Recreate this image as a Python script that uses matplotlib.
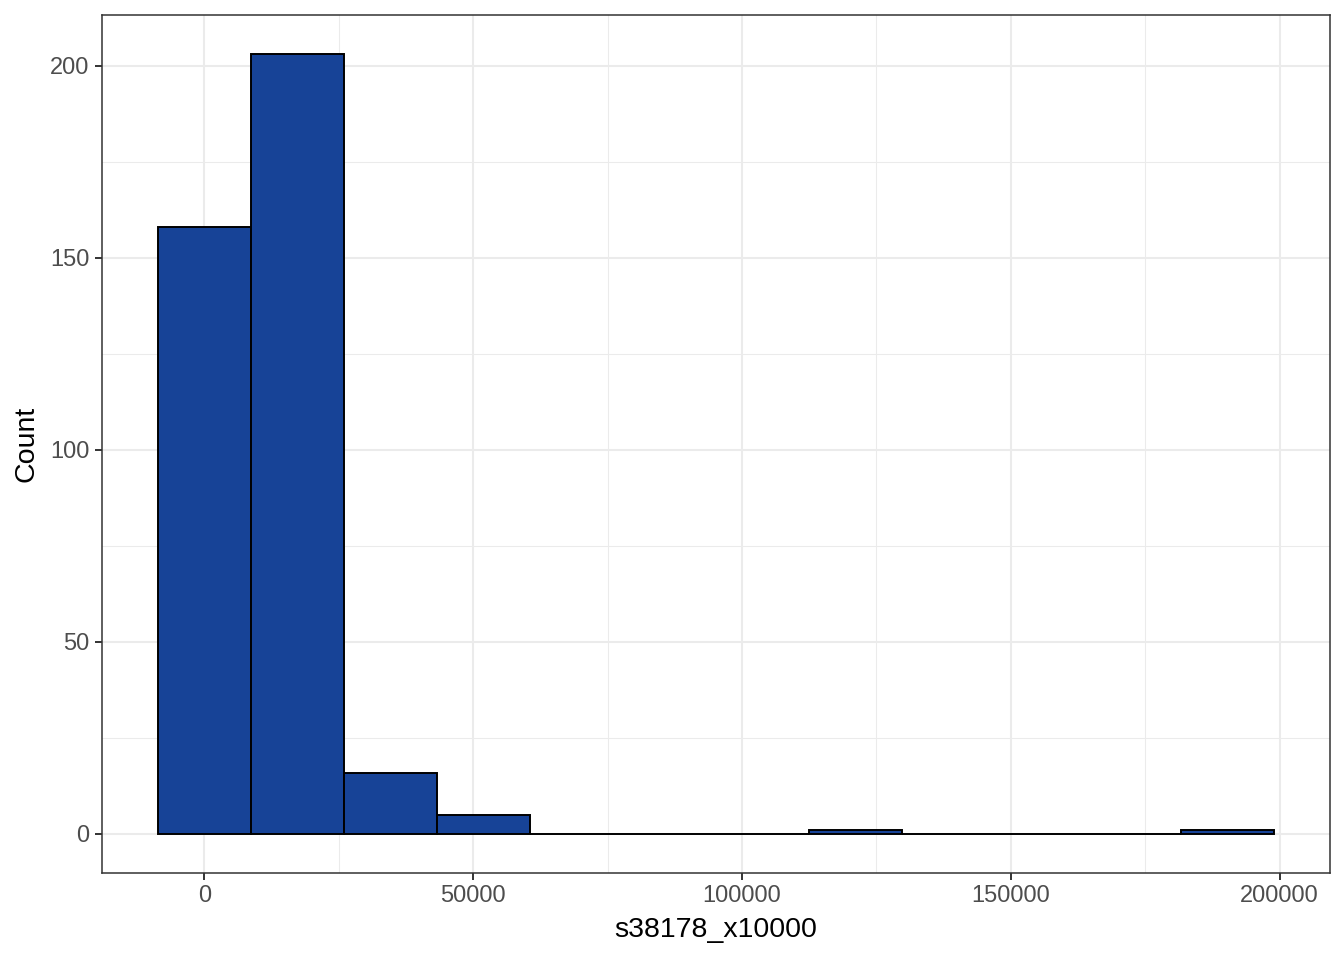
import numpy as np
import matplotlib
matplotlib.use("Agg")
import matplotlib.pyplot as plt

# istogramma s38178_x10000 (12 classi, la prima centrata sul minimo)
conteggi = [158, 203, 16, 5, 0, 0, 0, 1, 0, 0, 0, 1]
valore_min = 0
valore_max = 190340
n_classi = 12

x_ticks = [0, 50000, 100000, 150000, 200000]
y_ticks = [0, 50, 100, 150, 200]

ampiezza = (valore_max - valore_min) / (n_classi - 1)
bordi = valore_min - ampiezza / 2 + ampiezza * np.arange(n_classi + 1)

plt.rcParams['font.family'] = ['Liberation Sans', 'DejaVu Sans']

fig = plt.figure(figsize=(13.44, 9.6), dpi=100)
ax = fig.add_axes([102 / 1344, 1 - 873 / 960, (1330 - 102) / 1344, (873 - 15) / 960])

ax.bar(bordi[:-1], conteggi, width=ampiezza, align='edge',
       color='#174397', edgecolor='black', linewidth=1.4, zorder=3)

# limiti con espansione del 5% come ggplot
dx = (bordi[-1] - bordi[0]) * 0.05
ax.set_xlim(bordi[0] - dx, bordi[-1] + dx)
dy = max(conteggi) * 0.05
ax.set_ylim(-dy, max(conteggi) + dy)

ax.set_xticks(x_ticks)
ax.set_yticks(y_ticks)
ax.set_xticks([(a + b) / 2 for a, b in zip(x_ticks[:-1], x_ticks[1:])], minor=True)
ax.set_yticks([(a + b) / 2 for a, b in zip(y_ticks[:-1], y_ticks[1:])], minor=True)
ax.set_xticklabels([str(v) for v in x_ticks])
ax.set_yticklabels([str(v) for v in y_ticks])

ax.grid(which='major', color='#EBEBEB', linewidth=1.5, zorder=0)
ax.grid(which='minor', color='#EBEBEB', linewidth=0.75, zorder=0)
ax.set_axisbelow(True)

for s in ax.spines.values():
    s.set_color('#333333')
    s.set_linewidth(1.1)

ax.tick_params(which='major', length=5, width=1.4, color='#333333',
               labelsize=17, labelcolor='#4D4D4D', pad=4)
ax.tick_params(which='minor', length=0)

ax.set_xlabel('s38178_x10000', fontsize=20.5, color='black', labelpad=7)
ax.set_ylabel('Count', fontsize=20.5, color='black', labelpad=8)

plt.savefig('out.png', dpi=100)
plt.close()
